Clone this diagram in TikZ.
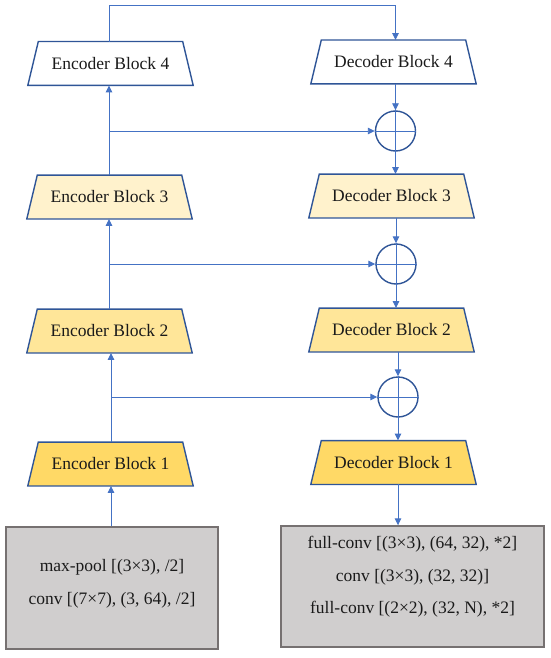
\documentclass[tikz,border=0pt]{standalone}
\usepackage{fontspec}
\setmainfont{Liberation Serif}
\usetikzlibrary{arrows.meta,calc}
\definecolor{connblue}{HTML}{4472C4}
\definecolor{edgeblue}{HTML}{2F5597}
\definecolor{lvlA}{HTML}{FFFFFF}
\definecolor{lvlB}{HTML}{FFF2CC}
\definecolor{lvlC}{HTML}{FFE699}
\definecolor{lvlD}{HTML}{FFD966}
\definecolor{boxfill}{HTML}{D0CECE}
\definecolor{boxedge}{HTML}{767171}
\definecolor{txt}{HTML}{1A1A1A}
\pgfdeclarelayer{bglayer}
\pgfsetlayers{bglayer,main}
% \blk{name}{x}{y}{fill}{text}
\newcommand{\blk}[5]{%
  \node[blockshape] (#1) at (#2,#3) {#5};
  \begin{pgfonlayer}{bglayer}
    \draw[trapline, fill=#4] ($(#1.north west)+(10.5,0)$) -- ($(#1.north east)+(-10.5,0)$)
      -- (#1.south east) -- (#1.south west) -- cycle;
  \end{pgfonlayer}}
\begin{document}
\begin{tikzpicture}[x=1pt,y=-1pt,
 blockshape/.style={rectangle, minimum width=165pt, minimum height=43.5pt, inner sep=0pt, text=txt, font=\fontsize{17.5}{21}\selectfont},
 trapline/.style={draw=edgeblue, line width=1.4pt, line join=miter},
 sumnode/.style={circle, draw=edgeblue, line width=1.4pt, minimum size=40pt, inner sep=0pt},
 link/.style={draw=connblue, line width=0.9pt},
 arr/.style={link, -{Triangle[length=7pt,width=6.5pt]}},
 graybox/.style={rectangle, draw=boxedge, fill=boxfill, line width=1.4pt, inner sep=0pt},
 boxtext/.style={align=center, text=txt, font=\fontsize{17.5}{32.5}\selectfont}
]
\useasboundingbox (0,0) rectangle (550,658);

% encoder column
\blk{enc4}{110.5}{63.5}{lvlA}{Encoder Block 4}
\blk{enc3}{109.5}{197}{lvlB}{Encoder Block 3}
\blk{enc2}{109.5}{331}{lvlC}{Encoder Block 2}
\blk{enc1}{110.5}{464}{lvlD}{Encoder Block 1}

% decoder column
\blk{dec4}{393.5}{62}{lvlA}{Decoder Block 4}
\blk{dec3}{391.5}{196}{lvlB}{Decoder Block 3}
\blk{dec2}{391.5}{330}{lvlC}{Decoder Block 2}
\blk{dec1}{393.5}{462.5}{lvlD}{Decoder Block 1}

% sum nodes
\node[sumnode] (sum4) at (395.5,131) {};
\node[sumnode] (sum3) at (396,264) {};
\node[sumnode] (sum2) at (398,397) {};

% gray boxes
\node[graybox, minimum width=212pt, minimum height=122pt] (lbox) at (112,588) {};
\node[graybox, minimum width=263pt, minimum height=121pt] (rbox) at (412.5,586.5) {};
\node[boxtext] (ltext) at (112,584) {max-pool [(3×3), /2]\\conv [(7×7), (3, 64), /2]};
\node[boxtext] (rtext) at (412.5,577) {full-conv [(3×3), (64, 32), *2]\\conv [(3×3), (32, 32)]\\full-conv [(2×2), (32, N), *2]};

% encoder column guide x positions
\coordinate (ex) at (109,0);
\coordinate (ex2) at (111,0);

% encoder connectors
\draw[arr] (ex2 |- lbox.north) -- (ex2 |- enc1.south);
\draw[arr] (ex2 |- enc1.north) -- (ex2 |- enc2.south);
\draw[arr] (ex |- enc2.north) -- (ex |- enc3.south);
\draw[arr] (ex |- enc3.north) -- (ex |- enc4.south);

% top bridge
\coordinate (topline) at (0,5);
\draw[arr] (ex |- enc4.north) -- (ex |- topline) -| (sum4.north |- dec4.north);

% skip connections
\draw[arr] (ex |- sum4.west) -- (sum4.west);
\draw[link] (sum4.west) -- (sum4.east);
\draw[arr] (ex |- sum3.west) -- (sum3.west);
\draw[link] (sum3.west) -- (sum3.east);
\draw[arr] (ex2 |- sum2.west) -- (sum2.west);
\draw[link] (sum2.west) -- (sum2.east);

% decoder connectors
\draw[arr] (sum4.north |- dec4.south) -- (sum4.north);
\draw[arr] (sum4.north) -- (sum4.north |- dec3.north);
\draw[arr] (sum3.north |- dec3.south) -- (sum3.north);
\draw[arr] (sum3.north) -- (sum3.north |- dec2.north);
\draw[arr] (sum2.north |- dec2.south) -- (sum2.north);
\draw[arr] (sum2.north) -- (sum2.north |- dec1.north);
\draw[arr] (sum2.north |- dec1.south) -- (sum2.north |- rbox.north);
\end{tikzpicture}
\end{document}
